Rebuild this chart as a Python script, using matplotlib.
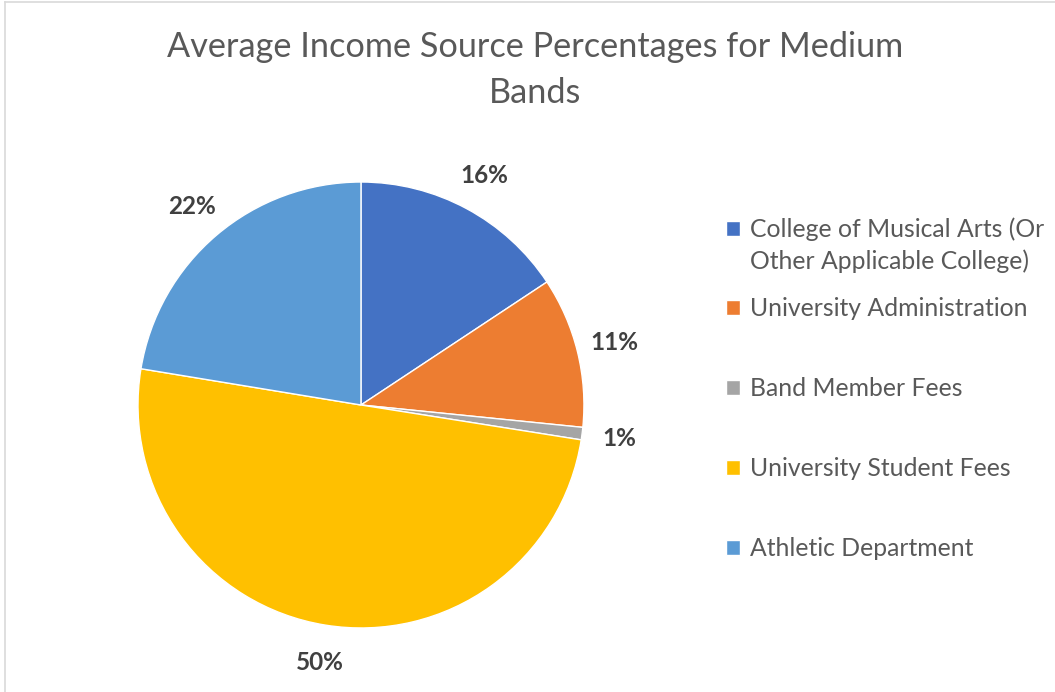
import matplotlib
matplotlib.use('Agg')
import matplotlib.pyplot as plt
from matplotlib.lines import Line2D

plt.rcParams['font.family'] = ['Lato', 'DejaVu Sans']

# income sources and their average share (%)
sources = ['College of Musical Arts (Or\nOther Applicable College)',
           'University Administration',
           'Band Member Fees',
           'University Student Fees',
           'Athletic Department']
shares = [15.7, 10.9, 0.9, 50.1, 22.4]
colors = ['#4472C4', '#ED7D31', '#A5A5A5', '#FFC000', '#5B9BD5']

fig = plt.figure(figsize=(10.55, 6.92), dpi=100)
ax = fig.add_axes([0.1308, 0.0925, 0.4227, 0.6445])

wedges, texts, autotexts = ax.pie(
    shares, colors=colors, startangle=90, counterclock=False,
    autopct='%1.0f%%', pctdistance=1.17,
    wedgeprops=dict(edgecolor='white', linewidth=1))
ax.set_xlim(-1, 1)
ax.set_ylim(-1, 1)

for t in autotexts:
    t.set_fontsize(17.5)
    t.set_fontweight('bold')
    t.set_color('#404040')

fig.text(535 / 1055, 1 - 70 / 692,
         'Average Income Source Percentages for Medium\nBands',
         ha='center', va='center', fontsize=24.7, color='#595959',
         linespacing=1.56)

leg_style = dict(loc='upper left', bbox_transform=fig.transFigure,
                 frameon=False, fontsize=17.8, labelcolor='#595959',
                 handlelength=0.55, handleheight=0.55, handletextpad=0.4,
                 labelspacing=2.3)

# first entry wraps onto two lines, so it gets its own legend block
leg1 = ax.legend(wedges[:1], sources[:1],
                 bbox_to_anchor=(704 / 1055, 1 - 195 / 692), **leg_style)
leg1.get_texts()[0].set_linespacing(1.43)
h0 = leg1.legend_handles[0]
h0.set_y(h0.get_y() + 12.2)
ax.add_artist(leg1)

ax.legend(wedges[1:], sources[1:],
          bbox_to_anchor=(704 / 1055, 1 - 275 / 692), **leg_style)

# chart area border (top and left edges)
fig.add_artist(Line2D([5 / 1055, 5 / 1055], [0, 1 - 2 / 692],
                      color='#D9D9D9', lw=1.2))
fig.add_artist(Line2D([5 / 1055, 1], [1 - 2 / 692, 1 - 2 / 692],
                      color='#D9D9D9', lw=1.2))

fig.savefig('out.png', dpi=100)
